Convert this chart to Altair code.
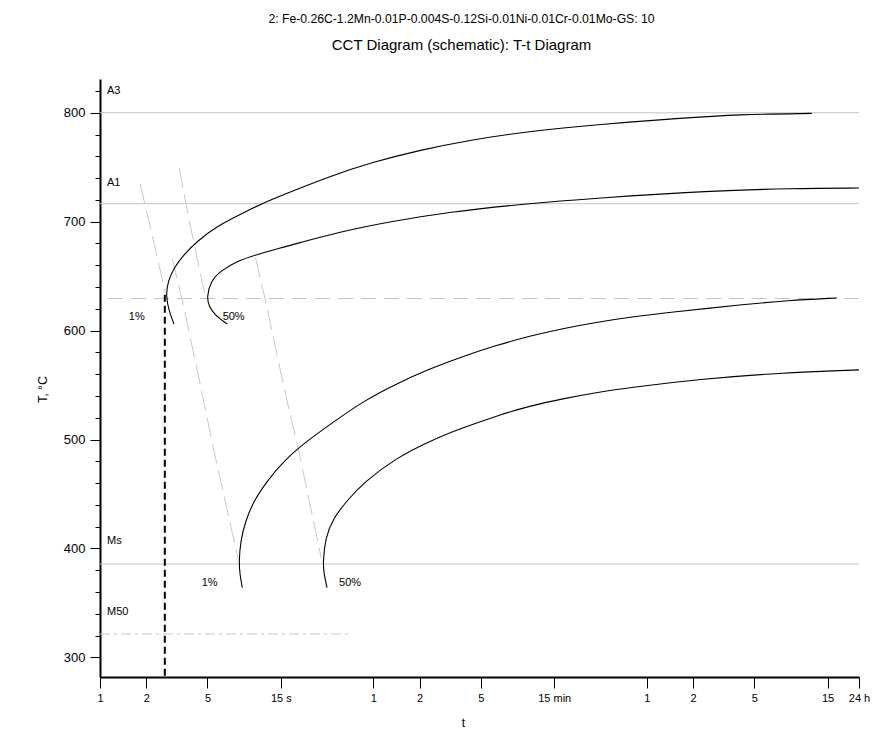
import json
import altair as alt
import pandas as pd

FONT = "Liberation Sans"

# ---------------- axis values ----------------
x_domain = [1, 86400]          # time, s (log scale, 1 s .. 24 h)
y_domain = [282, 831]          # temperature, degC
x_ticks = [1, 2, 5, 15, 60, 120, 300, 900, 3600, 7200, 18000, 54000, 86400]
x_tick_labels = ["1", "2", "5", "15 s", "1", "2", "5", "15 min", "1", "2", "5", "15", "24 h"]
y_ticks = [300, 320, 340, 360, 380, 400, 420, 440, 460, 480, 500, 520, 540, 560,
           580, 600, 620, 640, 660, 680, 700, 720, 740, 760, 780, 800, 820]

# ---------------- transformation curves (t in s, T in degC) ----------------
upper1_t = [3.03, 2.81, 2.68, 2.77, 3.03, 3.52, 4.30, 5.80, 8.21, 11.63, 14.92,
            31.5, 59.8, 120.7, 254.7, 623.7, 1774, 5861, 14360, 42660]
upper1_T = [606, 618, 632, 645.6, 657.8, 670, 682.3, 696, 706.8, 717.4, 723.6,
            741.9, 754.8, 765.8, 775, 783.2, 789.4, 794.9, 798.5, 799.4]

upper50_t = [6.73, 5.51, 5.12, 4.94, 5.25, 6.09, 7.82, 10.54, 14.92, 19.15,
             34.8, 77.1, 188.9, 537, 1774, 9165, 31650, 86400]
upper50_T = [606, 615, 622.7, 630.3, 645.6, 654.8, 664, 669.9, 675.9, 680,
             690.1, 700.2, 708.9, 716, 722, 728.2, 730.6, 730.9]

lower1_t = [8.42, 8.12, 8.01, 8.21, 8.85, 10.0, 12.24, 15.67, 22.23, 31.5, 51.8,
            85.2, 140.2, 230.4, 379.4, 623.7, 1026, 1689, 2777, 5045, 16670, 28840, 62000]
lower1_T = [364, 376.5, 388, 407.1, 425.4, 443.8, 462.1, 480.5, 498.8, 514.1, 535.5,
            551.5, 565, 576.5, 586.5, 595, 602, 607.7, 612.3, 616.7, 624.5, 627.5, 630]

lower50_t = [29.97, 28.6, 28.2, 29.2, 33.1, 40.4, 51.8, 85.2, 140.2, 230.4, 379.4,
             623.7, 1026, 1689, 2777, 7900, 26090, 86400]
lower50_T = [364, 376.8, 387, 410.1, 428.4, 443.8, 460.6, 483.5, 498.8, 511, 521.7,
             530.9, 537.5, 543.1, 547.7, 555.4, 561.2, 564]

# ---------------- cooling lines (grey dashed) ----------------
cool1_t = [1.825, 2.308, 2.66]
cool1_T = [734.9, 673.1, 634.6]
cool2_t = [3.27, 3.89, 4.80]
cool2_T = [749.5, 694.5, 633.7]
cool3_t = [2.96, 3.44, 4.30, 5.51, 7.91]
cool3_T = [665.5, 627.2, 563, 489.6, 390.6]
cool4_t = [10.27, 11.93, 16.08, 19.61, 27.53]
cool4_T = [667, 627.2, 541.7, 489.6, 390.6]

# ---------------- reference temperatures ----------------
ref_names = ["A3", "A1", "Ms", "M50"]
ref_T = [800, 716.5, 385.7, 321.5]
ref_label_T = [819.9, 735.2, 406.4, 341.3]
ref_label_t = [1.11, 1.11, 1.11, 1.11]
nose_T = 629.5           # horizontal dashed line through the nose
m50_t_end = 41.2         # M50 dash-dot line ends here
critical_t = 2.64        # vertical critical cooling time
critical_T_top = 633

pct_text = ["1%", "50%", "1%", "50%"]
pct_t = [1.733, 7.4, 5.17, 42.3]
pct_T = [612.6, 612.6, 368.3, 368]

# ---------------- tables ----------------
def long_table(items):
    rows = []
    for name, ts, Ts in items:
        for i, (t, T) in enumerate(zip(ts, Ts)):
            rows.append({"curve": name, "i": i, "t": t, "T": T})
    return pd.DataFrame(rows)

curves = long_table([("upper 1%", upper1_t, upper1_T), ("upper 50%", upper50_t, upper50_T),
                     ("lower 1%", lower1_t, lower1_T), ("lower 50%", lower50_t, lower50_T)])
cooling = long_table([("c1", cool1_t, cool1_T), ("c2", cool2_t, cool2_T),
                      ("c3", cool3_t, cool3_T), ("c4", cool4_t, cool4_T)])

full_lines = pd.DataFrame({"T": ref_T[:3]})
nose_line = pd.DataFrame({"T": [nose_T]})
m50_line = pd.DataFrame({"t": [x_domain[0]], "t1": [m50_t_end], "T": [ref_T[3]]})
crit_line = pd.DataFrame({"t": [critical_t], "T": [critical_T_top], "T1": [y_domain[0]]})
ref_labels = pd.DataFrame({"t": ref_label_t, "T": ref_label_T, "text": ref_names})
pct_labels = pd.DataFrame({"t": pct_t, "T": pct_T, "text": pct_text})

# ---------------- scales / axes ----------------
xs = alt.Scale(type="log", domain=x_domain, nice=False)
ys = alt.Scale(domain=y_domain, nice=False, zero=False)

x_label_expr = "{}[indexof({}, datum.value)]".format(json.dumps(x_tick_labels), json.dumps(x_ticks))
x_axis = alt.Axis(values=x_ticks, labelExpr=x_label_expr, title="t", tickSize=11,
                  labelPadding=4.5, labelOverlap=False, labelFlush=False, labelBound=False,
                  labelFontSize=11, titleFontSize=12, titleX=363, titlePadding=14)
major = "datum.value % 100 === 0"
y_axis = alt.Axis(values=y_ticks, title="T, °C", orient="left",
                  labelExpr="datum.value % 100 === 0 ? datum.label : ''",
                  tickSize={"condition": {"test": major, "value": 10}, "value": 5},
                  labelPadding=5, labelOverlap=False, labelFlush=False, labelFontSize=13,
                  titleFontSize=12.5, titlePadding=14, titleY=310)

X = lambda f: alt.X(f, scale=xs, axis=x_axis)
Y = lambda f: alt.Y(f, scale=ys, axis=y_axis)

grey = "#c4c4c4"

l_full = alt.Chart(full_lines).mark_rule(color=grey, strokeWidth=1).encode(y=Y("T:Q"))
l_nose = alt.Chart(nose_line).mark_rule(color=grey, strokeWidth=1, strokeDash=[15, 8]).encode(y=Y("T:Q"))
l_m50 = alt.Chart(m50_line).mark_rule(color=grey, strokeWidth=1, strokeDash=[10, 4, 3, 4]).encode(
    x=X("t:Q"), x2="t1:Q", y=Y("T:Q"))
l_cool = alt.Chart(cooling).mark_line(color="#c8c8c8", strokeWidth=1, strokeDash=[20, 7]).encode(
    x=X("t:Q"), y=Y("T:Q"), detail="curve:N", order="i:Q")
l_curves = alt.Chart(curves).mark_line(color="#000000", strokeWidth=1.1, interpolate="basis").encode(
    x=X("t:Q"), y=Y("T:Q"), detail="curve:N", order="i:Q")
l_crit = alt.Chart(crit_line).mark_rule(color="#000000", strokeWidth=2, strokeDash=[7, 4]).encode(
    x=X("t:Q"), y=Y("T:Q"), y2="T1:Q")
l_ref_text = alt.Chart(ref_labels).mark_text(align="left", baseline="middle", font=FONT,
                                             fontSize=11, color="#000000").encode(
    x=X("t:Q"), y=Y("T:Q"), text="text:N")
l_pct_text = alt.Chart(pct_labels).mark_text(align="center", baseline="middle", font=FONT,
                                             fontSize=11, color="#000000").encode(
    x=X("t:Q"), y=Y("T:Q"), text="text:N")

chart = alt.layer(
    l_full, l_nose, l_m50, l_cool, l_curves, l_crit, l_ref_text, l_pct_text
).properties(
    width=759, height=598,
    padding={"left": 28, "top": 4, "right": 0, "bottom": 0},
    title=alt.TitleParams(
        text="2: Fe-0.26C-1.2Mn-0.01P-0.004S-0.12Si-0.01Ni-0.01Cr-0.01Mo-GS: 10",
        subtitle="CCT Diagram (schematic): T-t Diagram",
        font=FONT, fontSize=12.2, fontWeight="normal", color="#000000",
        subtitleFont=FONT, subtitleFontSize=15, subtitleColor="#000000",
        subtitlePadding=13, anchor="middle", dx=-18, offset=26),
).configure_view(strokeWidth=0).configure_axis(
    domainColor="#000000", domainWidth=2, tickColor="#000000", tickWidth=1,
    labelFont=FONT, labelColor="#000000",
    titleFont=FONT, titleFontWeight="normal", titleColor="#000000",
    grid=False)

chart.save("out.html", embed_options={"renderer": "svg", "actions": False})
